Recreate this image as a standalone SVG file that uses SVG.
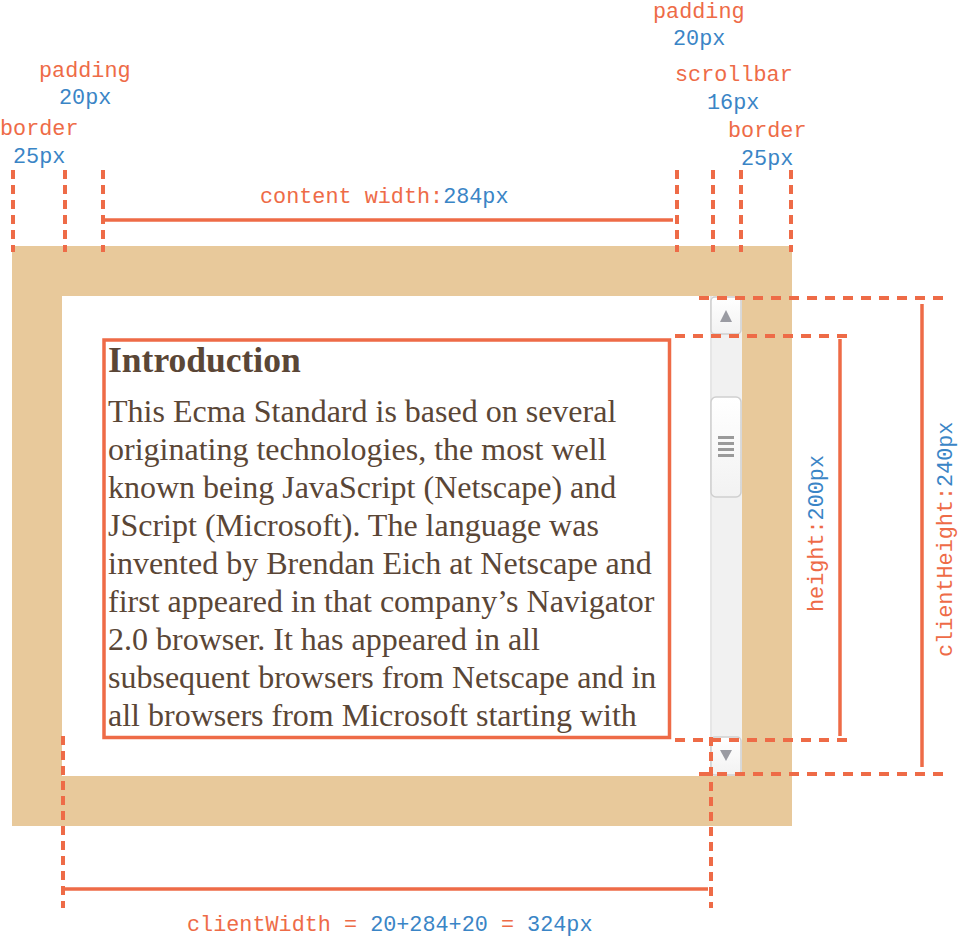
<svg xmlns="http://www.w3.org/2000/svg" width="959" height="937" viewBox="0 0 959 937">
<style>
.lbl{font-family:"Liberation Mono","DejaVu Sans Mono",monospace;font-size:21.8px;fill:#EE6B47}
.v{fill:#3A85C6}
.body{font-family:"Liberation Serif","Times New Roman",serif;font-size:32px;fill:#5A4636}
.head{font-family:"Liberation Serif","Times New Roman",serif;font-size:35.5px;font-weight:bold;fill:#5A4636}
.dv{stroke:#EE6B47;stroke-width:4;stroke-dasharray:9 6;fill:none}
.dh{stroke:#EE6B47;stroke-width:4;stroke-dasharray:10 8;fill:none}
.sol{stroke:#EE6B47;stroke-width:3.5;fill:none}
.arrow{fill:#9A9BA2}
</style>
<defs>
<linearGradient id="bg" x1="0" y1="0" x2="0" y2="1">
<stop offset="0" stop-color="#FFFFFF"/>
<stop offset="1" stop-color="#F2F2F2"/>
</linearGradient>
</defs>

<g id="frame">
<rect x="12" y="246" width="780" height="580" fill="#E8C99B"/>
<rect x="62" y="296" width="680" height="480" fill="#FFFFFF"/>
</g>

<g id="scrollbar">
<rect x="710" y="296" width="32" height="480" fill="#F1F1F1"/>
<rect x="710" y="296" width="2" height="480" fill="#E6E6E6"/>
<rect x="711" y="297" width="30" height="37" rx="4" fill="url(#bg)" stroke="#CFCFCF" stroke-width="1.5"/>
<polygon class="arrow" points="720,322 732,322 726,310"/>
<rect x="711" y="397" width="30" height="100" rx="5" fill="url(#bg)" stroke="#CFCFCF" stroke-width="1.5"/>
<rect x="718" y="436" width="16" height="3" fill="#9A9A9A"/>
<rect x="718" y="442" width="16" height="3" fill="#9A9A9A"/>
<rect x="718" y="448" width="16" height="3" fill="#9A9A9A"/>
<rect x="718" y="454" width="16" height="3" fill="#9A9A9A"/>
<rect x="711" y="737" width="30" height="38" rx="4" fill="url(#bg)" stroke="#CFCFCF" stroke-width="1.5"/>
<polygon class="arrow" points="720,750 732,750 726,761"/>
</g>

<g id="content">
<text class="head" x="108" y="372">Introduction</text>
<text class="body" x="108" y="422">This Ecma Standard is based on several</text>
<text class="body" x="108" y="460">originating technologies, the most well</text>
<text class="body" x="108" y="498">known being JavaScript (Netscape) and</text>
<text class="body" x="108" y="536">JScript (Microsoft). The language was</text>
<text class="body" x="108" y="574">invented by Brendan Eich at Netscape and</text>
<text class="body" x="108" y="612">first appeared in that company’s Navigator</text>
<text class="body" x="108" y="650">2.0 browser. It has appeared in all</text>
<text class="body" x="108" y="688">subsequent browsers from Netscape and in</text>
<text class="body" x="108" y="726">all browsers from Microsoft starting with</text>
<rect x="104" y="340" width="565.5" height="397.5" fill="none" stroke="#EE6B47" stroke-width="3.5"/>
</g>

<g id="connectors">
<line class="dv" x1="13" y1="170" x2="13" y2="252"/>
<line class="dv" x1="65" y1="170" x2="65" y2="252"/>
<line class="dv" x1="103" y1="170" x2="103" y2="252"/>
<line class="dv" x1="677" y1="170" x2="677" y2="252"/>
<line class="dv" x1="713" y1="170" x2="713" y2="252"/>
<line class="dv" x1="741" y1="170" x2="741" y2="252"/>
<line class="dv" x1="791" y1="170" x2="791" y2="252"/>
<line class="sol" x1="105" y1="220" x2="673" y2="220"/>

<line class="dh" x1="699" y1="298" x2="943" y2="298"/>
<line class="dh" x1="675" y1="336" x2="847" y2="336"/>
<line class="dh" x1="675" y1="740" x2="847" y2="740"/>
<line class="dh" x1="699" y1="774" x2="943" y2="774"/>
<line class="sol" x1="840" y1="339" x2="840" y2="736"/>
<line class="sol" x1="922" y1="304" x2="922" y2="767"/>

<line class="dv" x1="63" y1="736" x2="63" y2="908"/>
<line class="dv" x1="711" y1="737" x2="711" y2="908"/>
<line class="sol" x1="65" y1="889" x2="708" y2="889"/>
</g>

<g id="labels">
<text class="lbl" x="39" y="77">padding</text>
<text class="lbl v" x="59" y="104">20px</text>
<text class="lbl" x="0" y="135">border</text>
<text class="lbl v" x="13" y="163">25px</text>
<text class="lbl" x="653" y="18">padding</text>
<text class="lbl v" x="673" y="45">20px</text>
<text class="lbl" x="675" y="81">scrollbar</text>
<text class="lbl v" x="707" y="109">16px</text>
<text class="lbl" x="728" y="137">border</text>
<text class="lbl v" x="741" y="165">25px</text>
<text class="lbl" x="260" y="203">content width:<tspan class="v">284px</tspan></text>
<text class="lbl" transform="translate(823,612) rotate(-90)">height:<tspan class="v">200px</tspan></text>
<text class="lbl" transform="translate(952,657) rotate(-90)">clientHeight:<tspan class="v">240px</tspan></text>
<text class="lbl" x="187" y="931">clientWidth = <tspan class="v">20+284+20</tspan> = <tspan class="v">324px</tspan></text>
</g>
</svg>
